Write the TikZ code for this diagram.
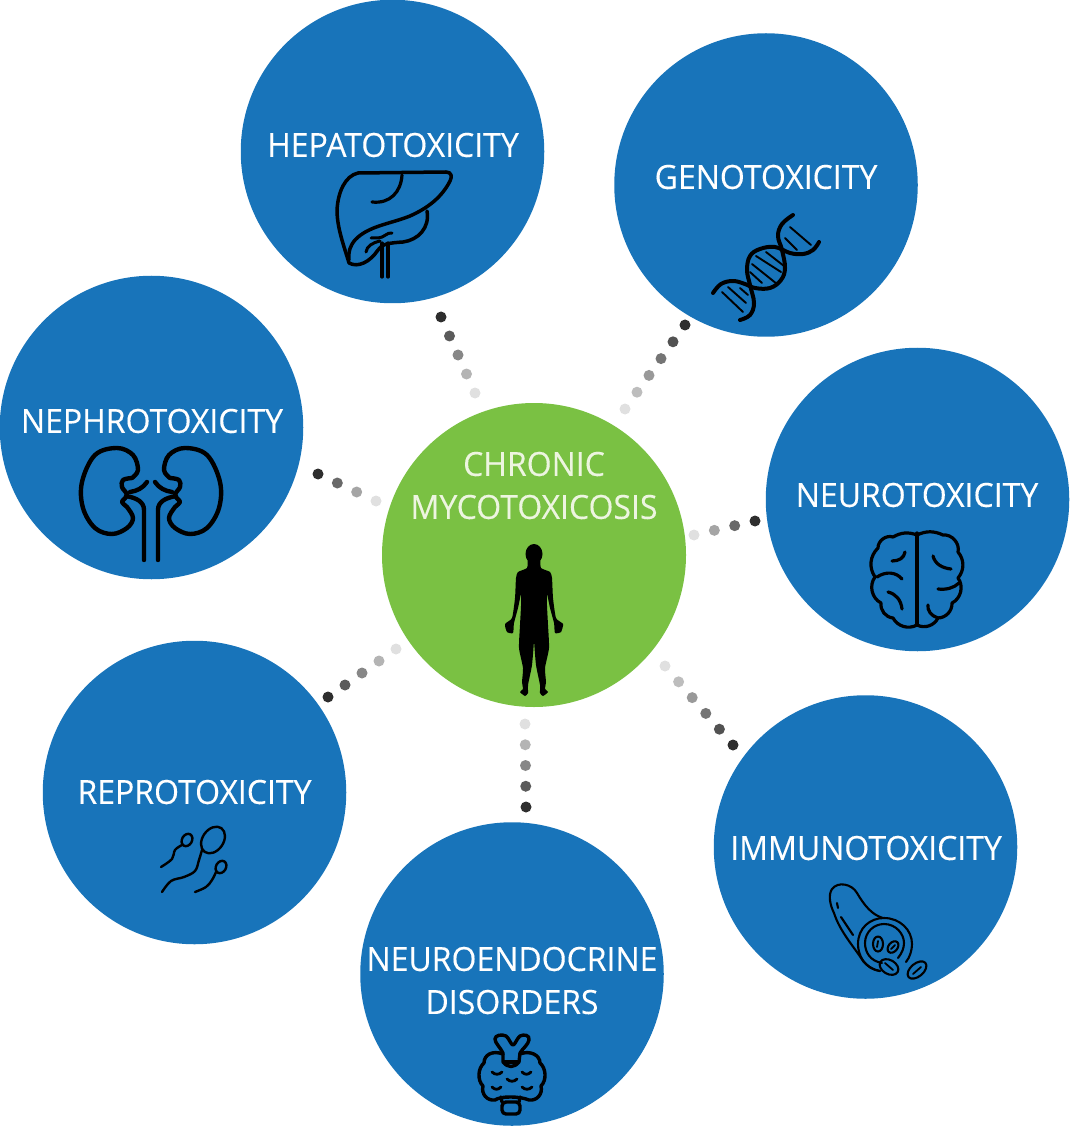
\documentclass[tikz,border=0pt]{standalone}
\usepackage{fontspec}
\setmainfont{Open Sans}[FakeStretch=0.96,FakeBold=0.2]
\usetikzlibrary{calc}
\definecolor{bubblue}{HTML}{1874BA}
\definecolor{hubgreen}{HTML}{7AC143}
\definecolor{hubtext}{HTML}{EDF5E0}
\tikzset{
  bubble/.style={circle,fill=bubblue,minimum size=303.5*.75pt,inner sep=0pt},
  hub/.style={circle,fill=hubgreen,minimum size=304*.75pt,inner sep=0pt},
  lbl/.style={text=white,font=\fontsize{25}{30}\selectfont,inner sep=0pt,anchor=center},
  hublbl/.style={lbl,text=hubtext},
  dotnode/.style={circle,inner sep=0pt,minimum size=11*.75pt},
  ink/.style={draw=black,line width=#1*.75pt,line cap=round,line join=round,fill=none},
  ink/.default=2.8
}
% name, start, end, count: dark outer dot to pale inner dot
\newcommand{\dotrow}[4]{%
  \foreach \i in {1,...,#4}{%
    \pgfmathsetmacro{\tval}{(\i-1)/(#4-1)}%
    \pgfmathsetmacro{\shade}{82-70*\tval}%
    \node[dotnode,fill=black!\shade] (#1-\i) at ($(#2)!\tval!(#3)$) {};
  }}
\begin{document}
\begin{tikzpicture}[x=.75pt,y=-.75pt]
\useasboundingbox (0,0) rectangle (1069,1126);
% circles
\node[bubble] (hepato) at (392.5,151.5) {};
\node[bubble] (geno) at (766,185) {};
\node[bubble] (neuro) at (917.5,499.5) {};
\node[bubble] (immuno) at (865.5,847) {};
\node[bubble] (endo) at (512,974) {};
\node[bubble] (repro) at (194.5,792.5) {};
\node[bubble] (nephro) at (151.5,427.5) {};
\node[hub] (hubc) at (534,555) {};
% labels
\node[lbl] (t1) at (393,145) {HEPATOTOXICITY};
\node[lbl] (t2) at (766,177) {GENOTOXICITY};
\node[lbl] (t3) at (152,421) {NEPHROTOXICITY};
\node[lbl] (t4) at (917,495) {NEUROTOXICITY};
\node[lbl] (t5) at (194.5,792) {REPROTOXICITY};
\node[lbl] (t6) at (866,848) {IMMUNOTOXICITY};
\node[lbl] (t7) at (512,959) {NEUROENDOCRINE};
\node[lbl] (t8) at (512,1002) {DISORDERS};
\node[hublbl] (t9) at (534,464) {CHRONIC};
\node[hublbl] (t10) at (534,507) {MYCOTOXICOSIS};
% dotted connectors
\coordinate (a1) at (441,317); \coordinate (a2) at (475,393);
\coordinate (b1) at (685,325); \coordinate (b2) at (625,409);
\coordinate (c1) at (755,521); \coordinate (c2) at (694,535);
\coordinate (d1) at (733,745); \coordinate (d2) at (665,666);
\coordinate (e1) at (526,807); \coordinate (e2) at (525,724);
\coordinate (f1) at (328,697); \coordinate (f2) at (396,649);
\coordinate (g1) at (318,474); \coordinate (g2) at (376,501);
\dotrow{da}{a1}{a2}{5}
\dotrow{db}{b1}{b2}{6}
\dotrow{dc}{c1}{c2}{4}
\dotrow{dd}{d1}{d2}{6}
\dotrow{de}{e1}{e2}{5}
\dotrow{df}{f1}{f2}{5}
\dotrow{dg}{g1}{g2}{4}
% liver
\draw[ink=3.5] (358,173) .. controls (345,176) and (338,192) .. (337,210)
  .. controls (337,228) and (344,246) .. (349,263)
  .. controls (358,268) and (370,262) .. (378,250)
  .. controls (382,244) and (388,243) .. (403,242)
  .. controls (418,240) and (430,228) .. (427,211);
\draw[ink=3.5] (358,173) -- (446,172) .. controls (452,172) and (452,177) .. (450,181)
  .. controls (442,197) and (428,208) .. (410,216)
  .. controls (390,224) and (368,226) .. (355,240) .. controls (350,246) and (348,252) .. (349,260);
\draw[ink=3.2] (402,175) .. controls (401,192) and (390,204) .. (372,202);
\draw[ink=3.2] (382,243) -- (382,277) (388,243) -- (388,277);
\draw[ink=3] (392,233) .. controls (387,232) and (384,238) .. (378,238) .. controls (374,238) and (372,238) .. (371,238);
\draw[ink=3] (366,252) .. controls (367,246) and (372,243) .. (380,241);
% DNA
\draw[ink=4] plot[smooth,tension=.65] coordinates {(713,293)(721,284)(733,281)(745,284)(755,288)(770,288)(781,280)(785,268)(782,250)(778,236)(782,224)(793,215)};
\draw[ink=4] plot[smooth,tension=.65] coordinates {(740,320)(750,315)(754,303)(750,285)(747,270)(750,256)(760,249)(775,247)(790,253)(803,254)(813,250)(819,242)};
\foreach \xa/\ya/\xb/\yb in {790/227/811/245, 785/238/797/250, 756/256/781/272, 752/264/777/284, 766/252/784/266, 750/272/762/283, 728/287/746/303, 722/292/743/312, 740/288/748/295}
  \draw[ink=1.9] (\xa,\ya) -- (\xb,\yb);
% kidneys
\foreach \s in {1,-1}{
\begin{scope}[shift={(151,0)},xscale=\s]
\draw[ink=4.4] plot[smooth,tension=.6] coordinates {(-19,478)(-13,470)(-18,455)(-34,448)(-56,455)(-69,482)(-68,508)(-56,528)(-39,534)(-24,528)(-18,518)(-24,507)(-29,502)(-24,495)(-29,487)(-28,480)(-19,478)};
\draw[ink=4.4] (-7,560) -- (-7,510) .. controls (-7,502) and (-14,498) .. (-25,496);
\draw[ink=4.4] (-4,482) .. controls (-8,488) and (-14,491) .. (-21,492);
\end{scope}}
% brain
\draw[ink=3.2] (917,533) -- (917,625);
\draw[ink=3.2] (917,535) to[bend right=25] (893,537) to[bend right=55] (878,548) to[bend right=40] (875,577) to[bend right=50] (881,603) to[bend right=45] (893,618) to[bend right=45] (917,625)
  (917,535) to[bend left=25] (943,535) to[bend left=55] (958,552) to[bend left=40] (958,578) to[bend left=50] (952,603) to[bend left=45] (938,618) to[bend left=45] (917,625);
\draw[ink=3.2] (892,561) .. controls (899,561) and (904,558) .. (905,552);
\draw[ink=3.2] (877,577) .. controls (886,571) and (896,572) .. (902,579);
\draw[ink=3.2] (888,592) .. controls (896,594) and (901,600) .. (902,609);
\draw[ink=3.2] (933,556) .. controls (935,564) and (942,568) .. (951,569);
\draw[ink=3.2] (938,589) .. controls (946,590) and (954,588) .. (959,583);
\draw[ink=3.2] (928,605) .. controls (927,610) and (931,616) .. (938,618);
% blood vessel
\draw[ink=2.1] (883,918) .. controls (872,915) and (864,905) .. (857,893)
  .. controls (852,884) and (838,881) .. (832,889) .. controls (828,895) and (830,905) .. (834,913)
  .. controls (840,932) and (855,948) .. (863,961) .. controls (868,967) and (873,970) .. (880,971);
\draw[ink=2.1] (837,903) -- (838,908) (841,917) -- (853,935);
\draw[ink=2.1] (880,971) .. controls (864,968) and (858,955) .. (858,944) .. controls (858,928) and (870,918) .. (884,918) .. controls (900,918) and (912,930) .. (912,944) .. controls (912,950) and (910,957) .. (906,962);
\draw[ink=2.1] (882,963) .. controls (870,961) and (865,952) .. (865,943) .. controls (865,932) and (874,924) .. (884,924) .. controls (896,924) and (904,934) .. (904,943) .. controls (904,948) and (902,953) .. (898,958);
\draw[ink=2.1] (878,944) ellipse [x radius=5,y radius=7.5];
\draw[ink=1.8] (878,941) -- (877,947);
\draw[ink=2.1,rotate around={-40:(893,947)}] (893,947) ellipse [x radius=4.5,y radius=6.5];
\draw[ink=1.8] (895,945) -- (891,949);
\draw[ink=2.1,rotate around={-30:(889,967)}] (889,967) ellipse [x radius=10,y radius=7];
\draw[ink=1.8] (885,963) -- (893,970);
\draw[ink=2.1,rotate around={40:(917,970)}] (917,970) ellipse [x radius=11,y radius=6.5];
\draw[ink=1.8] (913,974) -- (921,967);
% thyroid
\draw[ink=3.4] (503,1053) .. controls (500,1047) and (495,1043) .. (495,1039) .. controls (495,1035) and (502,1034) .. (506,1036)
  .. controls (509,1038) and (511,1045) .. (513,1045) .. controls (515,1045) and (517,1038) .. (520,1036)
  .. controls (524,1034) and (530,1035) .. (529,1040) .. controls (528,1045) and (523,1048) .. (520,1053)
  -- (519,1062) .. controls (514,1068) and (508,1068) .. (503,1062) -- cycle;
\draw[ink=3.4] (504,1062) -- (518,1062);
\draw[ink=3.4] (503,1054) .. controls (492,1050) and (484,1055) .. (484,1063) .. controls (478,1068) and (477,1080) .. (483,1086)
  .. controls (481,1094) and (487,1101) .. (495,1100) .. controls (498,1098) and (503,1097) .. (510,1097)
  .. controls (518,1097) and (524,1098) .. (529,1100) .. controls (537,1101) and (543,1094) .. (541,1086)
  .. controls (547,1080) and (546,1068) .. (540,1063) .. controls (540,1055) and (530,1050) .. (520,1054);
\draw[ink=3.4] (501,1097) -- (502,1102) (520,1097) -- (519,1102);
\draw[ink=3.4,rounded corners=3pt] (502,1102) rectangle (520,1114);
\foreach \xa/\ya/\xb/\yb in {492/1072/502/1072, 522/1072/531/1072, 507/1079/517/1079, 492/1087/501/1087, 522/1087/532/1087}
  \draw[ink=2.8] (\xa,\ya) .. controls ({\xa+3},{\ya+3}) and ({\xb-3},{\yb+3}) .. (\xb,\yb);
% sperm
\draw[ink=2.4,rotate around={-35:(213,840)}] (213,840) ellipse [x radius=10.5,y radius=14.5];
\draw[ink=2.4] plot[smooth,tension=.6] coordinates {(202,850)(199,860)(195,871)(184,877)(171,881)(162,892)};
\draw[ink=2.4,rotate around={-30:(187,840)}] (187,840) ellipse [x radius=5,y radius=6.5];
\draw[ink=2.4] plot[smooth,tension=.6] coordinates {(182,845)(175,850)(172,859)(161,867)};
\draw[ink=2.4,rotate around={-30:(221,867)}] (221,867) ellipse [x radius=5,y radius=6.5];
\draw[ink=2.4] plot[smooth,tension=.6] coordinates {(216,872)(212,880)(206,887)(195,892)};
% human figure
\fill[black] (534,554) ellipse [x radius=8.5,y radius=10];
\foreach \s in {1,-1}{
\begin{scope}[shift={(534,0)},xscale=\s]
\fill[black] plot[smooth cycle,tension=.35] coordinates {(0,560)(-6,560)(-7,568)(-16,572)(-18,578)(-19,598)(-22,618)(-29,624)(-27,632)(-21,633)(-20,623)(-16,608)(-13,594)(-13,606)(-14,625)(-15,648)(-11,668)(-12,682)(-11,689)(-14,692)(-9,696)(-6,693)(-6,685)(-2,665)(0,640)(0,625)};
\end{scope}}
\end{tikzpicture}
\end{document}
